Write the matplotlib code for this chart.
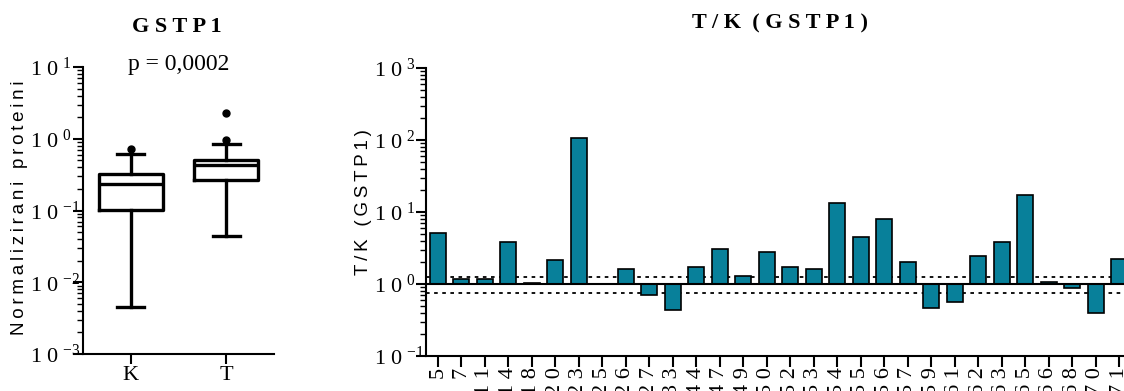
import numpy as np
import matplotlib
matplotlib.use("Agg")
import matplotlib.pyplot as plt
from matplotlib.ticker import LogLocator, NullFormatter

# fonts: Times-like serif for ticks/titles, Arial-like sans for the axis labels
plt.rcParams['font.family'] = ['Liberation Serif', 'DejaVu Serif']
plt.rcParams['mathtext.fontset'] = 'custom'
plt.rcParams['mathtext.rm'] = 'Liberation Serif'
plt.rcParams['mathtext.it'] = 'Liberation Serif:italic'
plt.rcParams['mathtext.bf'] = 'Liberation Serif:bold'
SANS = ['Liberation Sans', 'DejaVu Sans']
TS = '\u2009'  # thin space, used as letter spacing

# ============== data: left panel (box plot) ==============
groups = ['K', 'T']
whisker_lo = [0.0045, 0.044]
q1 = [0.102, 0.266]
median = [0.234, 0.435]
q3 = [0.323, 0.51]
whisker_hi = [0.61, 0.84]
outliers = [[0.72], [0.96, 2.26]]
p_text = 'p = 0,0002'
left_decades = [-3, -2, -1, 0, 1]

# ============== data: right panel (T/K ratios) ==============
samples = [5, 7, 11, 14, 18, 20, 23, 25, 26, 27, 33, 44, 47, 49, 50,
           52, 53, 54, 55, 56, 57, 59, 61, 62, 63, 65, 66, 68, 70, 71]
ratios = [5.06, 1.16, 1.16, 3.8, 1.04, 2.13, 107.6, 1.01, 1.6, 0.70, 0.435, 1.74, 3.03, 1.28, 2.78,
          1.72, 1.6, 13.3, 4.45, 7.9, 2.0, 0.47, 0.556, 2.42, 3.8, 17.1, 1.07, 0.89, 0.39, 2.25]
upper_cut = 1.25
lower_cut = 0.75
right_decades = [-1, 0, 1, 2, 3]

W, H = 1124, 391
teal = '#08809A'
FS = 16


def spaced(s, sep=' '):
    return sep.join(s)


def style_log_axis(ax, decades, label_x_px):
    ax.yaxis.set_minor_locator(LogLocator(base=10, subs=np.arange(2, 10), numticks=20))
    ax.yaxis.set_minor_formatter(NullFormatter())
    ax.set_yticks([10.0 ** e for e in decades])
    # GraphPad style: the "10" part is left aligned, exponents hang to the right
    ax.set_yticklabels(['1 0' + TS + '$^{%d}$' % e for e in decades], ha='left', fontsize=FS)
    for s in ['top', 'right']:
        ax.spines[s].set_visible(False)
    for s in ['left', 'bottom']:
        ax.spines[s].set_linewidth(1.5)
    ax.tick_params(which='major', length=7, width=1.5, labelsize=FS)
    ax.tick_params(which='minor', length=4, width=1.0)
    ax.tick_params(axis='x', which='minor', length=0)
    ax.tick_params(axis='y', which='major', pad=label_x_px * 0.72)


fig = plt.figure(figsize=(W / 100, H / 100), dpi=100)

# =================== left: box plot ===================
ax1 = fig.add_axes([83 / W, 1 - 354 / H, 191 / W, 287 / H])
ax1.set_yscale('log')
stats = []
for i in range(len(groups)):
    stats.append(dict(whislo=whisker_lo[i], q1=q1[i], med=median[i], q3=q3[i],
                      whishi=whisker_hi[i], fliers=outliers[i], label=groups[i]))
ax1.bxp(stats, positions=[1, 2], widths=0.67, capwidths=0.28, showfliers=True,
        boxprops=dict(color='black', linewidth=2.4),
        whiskerprops=dict(color='black', linewidth=2.4),
        capprops=dict(color='black', linewidth=2.4),
        medianprops=dict(color='black', linewidth=2.4),
        flierprops=dict(marker='o', markerfacecolor='black', markeredgecolor='black', markersize=5))
ax1.set_ylim(1e-3, 10)
ax1.set_xlim(0.5, 2.5)
style_log_axis(ax1, left_decades, 83 - 7 - 33)
ax1.tick_params(axis='x', which='major', pad=2)
ax1.text(1.5, 9.0, p_text, ha='center', va='baseline', fontsize=17)

fig.text(176.5 / W, 1 - 26.7 / H, spaced('GSTP1'), ha='center', va='center',
         fontsize=16, fontweight='bold')
fig.text(20 / W, 1 - 208 / H, spaced('Normalizirani proteini', TS), ha='center', va='center',
         rotation=90, fontsize=13.5, family=SANS)

# =================== right: T/K bars ===================
ax2 = fig.add_axes([426 / W, 1 - 356 / H, 705 / W, 288 / H])
ax2.set_yscale('log')
x = np.arange(len(samples))
r = np.array(ratios)
ax2.axhline(upper_cut, color='black', linewidth=1.3, linestyle=(0, (2, 2.5)), zorder=1)
ax2.axhline(lower_cut, color='black', linewidth=1.3, linestyle=(0, (2, 2.5)), zorder=1)
ax2.bar(x, r - 1, bottom=1, width=0.67, color=teal, edgecolor='black', linewidth=1.2, zorder=2)
ax2.axhline(1, color='black', linewidth=1.5, zorder=3)
ax2.set_ylim(0.1, 1000)
ax2.set_xlim(-0.5, 29.5)
style_log_axis(ax2, right_decades, 426 - 7 - 377)
ax2.set_xticks(x)
ax2.set_xticklabels([spaced(str(s)) for s in samples], rotation=90, fontsize=FS)
ax2.tick_params(axis='x', which='major', length=8, pad=0)

fig.text(780 / W, 1 - 23.3 / H, spaced('T/K') + '  ' + spaced('(GSTP1)'), ha='center', va='center',
         fontsize=16, fontweight='bold')
fig.text(363 / W, 1 - 202.5 / H, spaced('T/K (GSTP1)', TS), ha='center', va='center',
         rotation=90, fontsize=13.5, family=SANS)

fig.savefig('out.png', dpi=100)
